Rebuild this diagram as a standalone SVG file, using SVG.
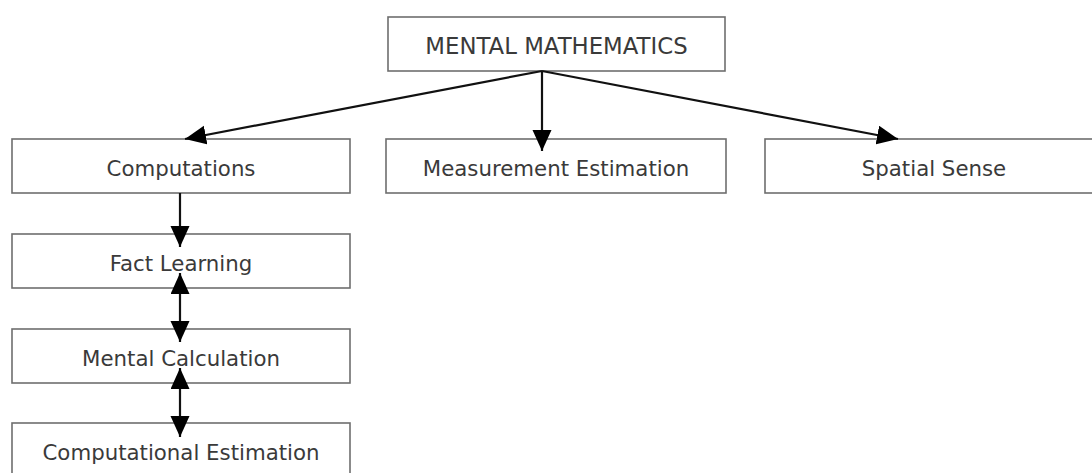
<svg xmlns="http://www.w3.org/2000/svg" width="1092" height="473" viewBox="0 0 1092 473">
  <style>
    .box { fill: #ffffff; stroke: #6e6e6e; stroke-width: 1.6; }
    .lbl { font-family: "DejaVu Sans", "Liberation Sans", sans-serif; font-size: 21.3px; fill: #3a3a3a; text-anchor: middle; }
    .top { font-size: 22.8px; }
    .conn { stroke: #111111; stroke-width: 2.2; fill: none; }
  </style>
  <defs>
    <marker id="ah" markerUnits="userSpaceOnUse" markerWidth="22" markerHeight="20" refX="21" refY="9.5" orient="auto-start-reverse" viewBox="0 0 22 20">
      <path d="M0,0 L21,9.5 L0,19 z" fill="#000000"/>
    </marker>
  </defs>
  <rect width="1092" height="473" fill="#ffffff"/>

  <g id="node-mental-mathematics">
    <rect class="box" x="388" y="17" width="337" height="54"/>
    <text class="lbl top" x="556.5" y="54">MENTAL MATHEMATICS</text>
  </g>
  <g id="node-computations">
    <rect class="box" x="12" y="139" width="338" height="54"/>
    <text class="lbl" x="181" y="175.5">Computations</text>
  </g>
  <g id="node-measurement-estimation">
    <rect class="box" x="386" y="139" width="340" height="54"/>
    <text class="lbl" x="556" y="175.5">Measurement Estimation</text>
  </g>
  <g id="node-spatial-sense">
    <rect class="box" x="765" y="139" width="340" height="54"/>
    <text class="lbl" x="934" y="175.5">Spatial Sense</text>
  </g>
  <g id="node-fact-learning">
    <rect class="box" x="12" y="234" width="338" height="54"/>
    <text class="lbl" x="181" y="270.5">Fact Learning</text>
  </g>
  <g id="node-mental-calculation">
    <rect class="box" x="12" y="329" width="338" height="54"/>
    <text class="lbl" x="181" y="365.5">Mental Calculation</text>
  </g>
  <g id="node-computational-estimation">
    <rect class="box" x="12" y="423" width="338" height="60"/>
    <text class="lbl" x="181" y="460">Computational Estimation</text>
  </g>

  <g id="connectors">
    <line class="conn" x1="542" y1="71" x2="185" y2="139" marker-end="url(#ah)"/>
    <line class="conn" x1="542" y1="71" x2="542" y2="151" marker-end="url(#ah)"/>
    <line class="conn" x1="542" y1="71" x2="898" y2="139" marker-end="url(#ah)"/>
    <line class="conn" x1="180" y1="193" x2="180" y2="247" marker-end="url(#ah)"/>
    <line class="conn" x1="180" y1="273" x2="180" y2="342" marker-start="url(#ah)" marker-end="url(#ah)"/>
    <line class="conn" x1="180" y1="368" x2="180" y2="437" marker-start="url(#ah)" marker-end="url(#ah)"/>
  </g>
</svg>
